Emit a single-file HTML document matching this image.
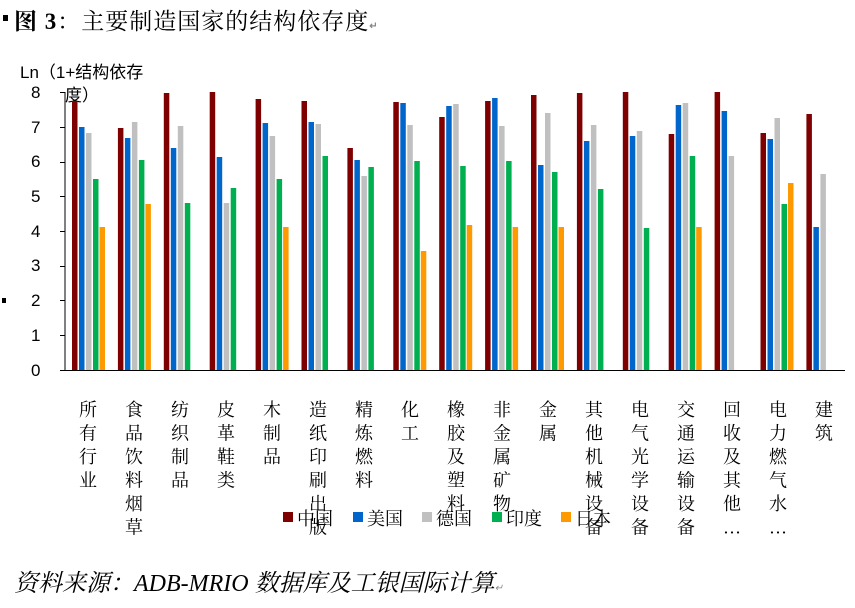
<!DOCTYPE html>
<html><head><meta charset="utf-8"><style>
body{margin:0;background:#fff;}
svg{display:block;}
.cat{font-family:"Liberation Serif","Noto Serif CJK SC",serif;font-size:18px;fill:#000;}
.tk{font-family:"Liberation Sans","Noto Sans CJK SC",sans-serif;font-size:17px;fill:#000;}
</style></head><body>
<svg id="s" width="855" height="608" viewBox="0 0 855 608" xmlns="http://www.w3.org/2000/svg">
<rect x="0" y="0" width="855" height="608" fill="#fff"/>
<rect x="3" y="15" width="5" height="6" fill="#000"/>
<text x="14" y="29" font-family="Liberation Serif,'Noto Serif CJK SC',serif" font-size="23" font-weight="bold" letter-spacing="1">图 3<tspan font-weight="normal">：主要制造国家的结构依存度</tspan><tspan font-size="10" fill="#888">↵</tspan></text>
<rect x="2" y="298" width="4" height="5" fill="#000"/>
<text x="20" y="78" class="tk" font-size="17">Ln（1+结构依存</text>
<text x="65" y="101" class="tk" font-size="17">度）</text>
<g class="tk">
<text x="31" y="98">8</text><text x="31" y="133">7</text><text x="31" y="167">6</text><text x="31" y="202">5</text>
<text x="31" y="237">4</text><text x="31" y="271">3</text><text x="31" y="306">2</text><text x="31" y="341">1</text><text x="31" y="376">0</text>
</g>
<g id="bars"></g>
<g stroke="#000" stroke-width="1">
<line x1="65" y1="92" x2="65" y2="370"/>
<line x1="60" y1="370.5" x2="845" y2="370.5"/>
<line x1="60" y1="92.5" x2="65" y2="92.5"/><line x1="60" y1="127.5" x2="65" y2="127.5"/>
<line x1="60" y1="162.5" x2="65" y2="162.5"/><line x1="60" y1="196.5" x2="65" y2="196.5"/>
<line x1="60" y1="231.5" x2="65" y2="231.5"/><line x1="60" y1="266.5" x2="65" y2="266.5"/>
<line x1="60" y1="300.5" x2="65" y2="300.5"/><line x1="60" y1="335.5" x2="65" y2="335.5"/>
</g>
<g class="cat" text-anchor="middle">
<text x="88" y="416">所<tspan x="88" dy="23.5">有</tspan><tspan x="88" dy="23.5">行</tspan><tspan x="88" dy="23.5">业</tspan></text>
<text x="134" y="416">食<tspan x="134" dy="23.5">品</tspan><tspan x="134" dy="23.5">饮</tspan><tspan x="134" dy="23.5">料</tspan><tspan x="134" dy="23.5">烟</tspan><tspan x="134" dy="23.5">草</tspan></text>
<text x="180" y="416">纺<tspan x="180" dy="23.5">织</tspan><tspan x="180" dy="23.5">制</tspan><tspan x="180" dy="23.5">品</tspan></text>
<text x="226" y="416">皮<tspan x="226" dy="23.5">革</tspan><tspan x="226" dy="23.5">鞋</tspan><tspan x="226" dy="23.5">类</tspan></text>
<text x="272" y="416">木<tspan x="272" dy="23.5">制</tspan><tspan x="272" dy="23.5">品</tspan></text>
<text x="318" y="416">造<tspan x="318" dy="23.5">纸</tspan><tspan x="318" dy="23.5">印</tspan><tspan x="318" dy="23.5">刷</tspan><tspan x="318" dy="23.5">出</tspan><tspan x="318" dy="23.5">版</tspan></text>
<text x="364" y="416">精<tspan x="364" dy="23.5">炼</tspan><tspan x="364" dy="23.5">燃</tspan><tspan x="364" dy="23.5">料</tspan></text>
<text x="410" y="416">化<tspan x="410" dy="23.5">工</tspan></text>
<text x="456" y="416">橡<tspan x="456" dy="23.5">胶</tspan><tspan x="456" dy="23.5">及</tspan><tspan x="456" dy="23.5">塑</tspan><tspan x="456" dy="23.5">料</tspan></text>
<text x="502" y="416">非<tspan x="502" dy="23.5">金</tspan><tspan x="502" dy="23.5">属</tspan><tspan x="502" dy="23.5">矿</tspan><tspan x="502" dy="23.5">物</tspan></text>
<text x="548" y="416">金<tspan x="548" dy="23.5">属</tspan></text>
<text x="594" y="416">其<tspan x="594" dy="23.5">他</tspan><tspan x="594" dy="23.5">机</tspan><tspan x="594" dy="23.5">械</tspan><tspan x="594" dy="23.5">设</tspan><tspan x="594" dy="23.5">备</tspan></text>
<text x="640" y="416">电<tspan x="640" dy="23.5">气</tspan><tspan x="640" dy="23.5">光</tspan><tspan x="640" dy="23.5">学</tspan><tspan x="640" dy="23.5">设</tspan><tspan x="640" dy="23.5">备</tspan></text>
<text x="686" y="416">交<tspan x="686" dy="23.5">通</tspan><tspan x="686" dy="23.5">运</tspan><tspan x="686" dy="23.5">输</tspan><tspan x="686" dy="23.5">设</tspan><tspan x="686" dy="23.5">备</tspan></text>
<text x="732" y="416">回<tspan x="732" dy="23.5">收</tspan><tspan x="732" dy="23.5">及</tspan><tspan x="732" dy="23.5">其</tspan><tspan x="732" dy="23.5">他</tspan><tspan x="732" dy="23.5">…</tspan></text>
<text x="778" y="416">电<tspan x="778" dy="23.5">力</tspan><tspan x="778" dy="23.5">燃</tspan><tspan x="778" dy="23.5">气</tspan><tspan x="778" dy="23.5">水</tspan><tspan x="778" dy="23.5">…</tspan></text>
<text x="824" y="416">建<tspan x="824" dy="23.5">筑</tspan></text>
</g>
<g class="cat" font-size="17">
<rect x="283" y="512" width="10" height="10" fill="#7f0000"/><text x="297" y="525">中国</text>
<rect x="353" y="512" width="10" height="10" fill="#0066cc"/><text x="367" y="525">美国</text>
<rect x="422" y="512" width="10" height="10" fill="#c0c0c0"/><text x="436" y="525">德国</text>
<rect x="492" y="512" width="10" height="10" fill="#00b050"/><text x="506" y="525">印度</text>
<rect x="561" y="512" width="10" height="10" fill="#ff9900"/><text x="575" y="525">日本</text>
</g>
<text x="14" y="591" font-family="Liberation Serif,'Noto Serif CJK SC',serif" font-size="24" font-style="italic">资料来源：ADB-MRIO 数据库及工银国际计算<tspan font-size="10" fill="#888">↵</tspan></text>
</svg>
<script>
var z=[[123,201,219,357,501],[204,234,186,300,432],[99,264,198,429,0],[96,291,429,384,0],[117,189,228,357,501],[123,186,192,288,0],[264,300,348,321,0],[126,129,195,303,573],[171,138,132,318,495],[123,114,198,303,501],[105,315,159,336,501],[99,243,195,387,0],[96,228,213,504,0],[222,135,129,288,501],[96,153,288,0,0],[219,237,174,432,369],[162,501,342,0,0]];
var c=["#7f0000","#0066cc","#c0c0c0","#00b050","#ff9900"],off=[0,7,14,21,27.5],g=document.getElementById("bars"),h="";
z.forEach(function(r,i){var x0=72+45.9*i;r.forEach(function(v,j){if(!v)return;var t=60+v/3;h+='<rect x="'+(x0+off[j])+'" y="'+t+'" width="5.5" height="'+(370-t)+'" fill="'+c[j]+'"/>';});});
g.innerHTML=h;
</script>
</body></html>
